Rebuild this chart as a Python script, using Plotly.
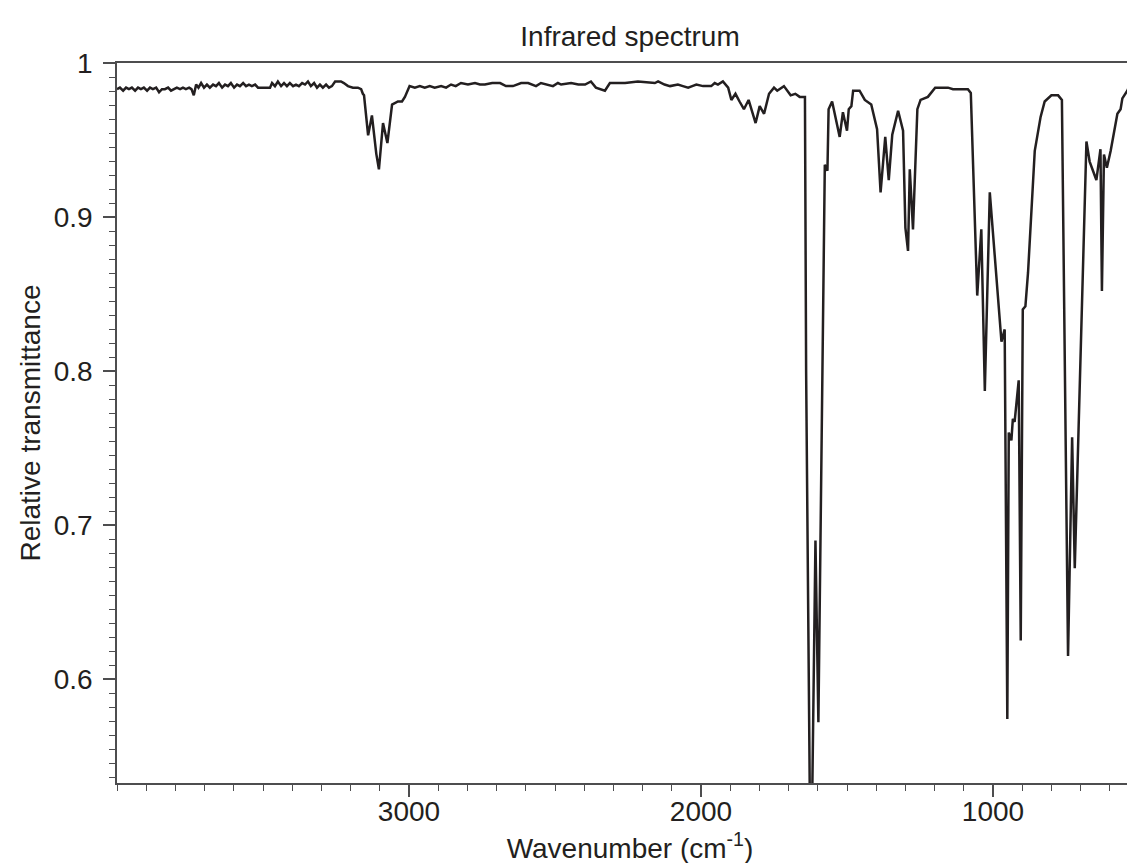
import plotly.graph_objects as go

# Wavenumber (cm^-1) and relative transmittance
wavenumber = [
    4000, 3990, 3979, 3969, 3959, 3949, 3938, 3928, 3918, 3908, 3897, 3887, 3877, 3866,
    3856, 3846, 3836, 3825, 3815, 3805, 3795, 3784, 3774, 3764, 3753, 3745, 3737, 3729,
    3721, 3712, 3702, 3692, 3682, 3671, 3661, 3651, 3640, 3630, 3620, 3610, 3599, 3589,
    3579, 3568, 3558, 3548, 3538, 3527, 3517, 3497, 3476, 3469, 3459, 3449, 3438, 3428,
    3418, 3408, 3397, 3387, 3377, 3366, 3356, 3346, 3336, 3325, 3315, 3305, 3295, 3284,
    3274, 3264, 3253, 3233, 3223, 3209, 3192, 3175, 3164, 3158, 3154, 3140, 3127, 3112,
    3103, 3089, 3074, 3058, 3038, 3024, 3014, 2998, 2980, 2963, 2946, 2929, 2912, 2890,
    2873, 2856, 2840, 2822, 2798, 2774, 2757, 2740, 2715, 2688, 2668, 2644, 2616, 2592,
    2565, 2548, 2524, 2507, 2490, 2479, 2445, 2420, 2397, 2377, 2360, 2340, 2329, 2312,
    2260, 2216, 2158, 2147, 2125, 2106, 2079, 2062, 2044, 2030, 2016, 1993, 1976, 1965,
    1953, 1942, 1925, 1907, 1896, 1882, 1868, 1853, 1837, 1813, 1799, 1784, 1767, 1750,
    1739, 1716, 1693, 1677, 1662, 1648, 1644, 1640, 1624, 1608, 1598, 1576, 1567, 1563,
    1551, 1525, 1514, 1500, 1494, 1485, 1479, 1457, 1439, 1417, 1397, 1385, 1369, 1357,
    1345, 1325, 1308, 1300, 1291, 1285, 1274, 1259, 1248, 1223, 1198, 1154, 1137, 1086,
    1076, 1054, 1040, 1028, 1011, 971, 960, 951, 946, 937, 932, 926, 912, 905,
    898, 889, 880, 857, 837, 823, 800, 777, 764, 743, 729, 720, 680, 669,
    646, 632, 627, 620, 610, 597, 574, 563, 557, 540, 524, 513, 501, 486,
]
transmittance = [
    0.983, 0.984, 0.982, 0.984, 0.983, 0.984, 0.982, 0.984, 0.983, 0.984, 0.982, 0.984, 0.983, 0.984,
    0.981, 0.983, 0.983, 0.984, 0.982, 0.983, 0.984, 0.983, 0.984, 0.983, 0.984, 0.983, 0.979, 0.986,
    0.984, 0.987, 0.984, 0.986, 0.984, 0.986, 0.985, 0.987, 0.984, 0.986, 0.985, 0.987, 0.984, 0.986,
    0.985, 0.987, 0.985, 0.986, 0.985, 0.986, 0.984, 0.984, 0.984, 0.987, 0.985, 0.988, 0.985, 0.987,
    0.985, 0.987, 0.985, 0.986, 0.985, 0.987, 0.986, 0.988, 0.985, 0.987, 0.984, 0.986, 0.984, 0.986,
    0.984, 0.985, 0.988, 0.988, 0.987, 0.985, 0.984, 0.984, 0.983, 0.980, 0.979, 0.953, 0.966, 0.941,
    0.931, 0.961, 0.948, 0.973, 0.975, 0.975, 0.978, 0.985, 0.984, 0.985, 0.984, 0.985, 0.984, 0.985,
    0.984, 0.986, 0.985, 0.987, 0.986, 0.987, 0.986, 0.986, 0.987, 0.987, 0.985, 0.985, 0.987, 0.987,
    0.985, 0.987, 0.986, 0.985, 0.987, 0.986, 0.987, 0.986, 0.986, 0.988, 0.984, 0.983, 0.982, 0.987,
    0.987, 0.988, 0.987, 0.988, 0.986, 0.985, 0.986, 0.985, 0.984, 0.985, 0.986, 0.985, 0.985, 0.985,
    0.987, 0.986, 0.988, 0.984, 0.976, 0.980, 0.975, 0.970, 0.976, 0.961, 0.972, 0.967, 0.980, 0.984,
    0.982, 0.985, 0.979, 0.980, 0.978, 0.978, 0.978, 0.800, 0.450, 0.690, 0.572, 0.934, 0.930, 0.970,
    0.975, 0.952, 0.968, 0.956, 0.970, 0.972, 0.982, 0.982, 0.976, 0.973, 0.957, 0.916, 0.952, 0.924,
    0.9535, 0.969, 0.956, 0.893, 0.878, 0.931, 0.892, 0.970, 0.976, 0.978, 0.984, 0.984, 0.983, 0.983,
    0.9805, 0.849, 0.892, 0.787, 0.916, 0.819, 0.827, 0.574, 0.760, 0.755, 0.769, 0.767, 0.794, 0.625,
    0.840, 0.842, 0.864, 0.943, 0.965, 0.975, 0.979, 0.979, 0.976, 0.615, 0.757, 0.672, 0.949, 0.936,
    0.924, 0.944, 0.852, 0.9405, 0.932, 0.943, 0.967, 0.970, 0.977, 0.982, 0.989, 0.978, 0.983, 0.976,
]

x_ticks = [3000, 2000, 1000]
y_ticks = [0.6, 0.7, 0.8, 0.9, 1.0]
y_tick_text = ["0.6", "0.7", "0.8", "0.9", "1"]

FONT = "Liberation Sans, Arial, Helvetica, sans-serif"
INK = "#231f20"
AXIS = "#4d4d4f"

X_RANGE = [4000, 486.3]
Y_RANGE = [0.5325, 1.0]

# minor tick positions (axis decoration, not data)
x_minor = [v for v in range(500, 4001, 100) if v not in x_ticks]
y_minor = [round(k / 110, 6) for k in range(59, 111) if round(k / 110, 6) not in y_ticks]

fig = go.Figure()
fig.add_trace(go.Scatter(
    x=wavenumber, y=transmittance, mode="lines",
    line=dict(color=INK, width=2.5), hoverinfo="skip", showlegend=False,
))

fig.update_layout(
    width=1135, height=863,
    margin=dict(l=109, r=0, t=55, b=88, pad=0),
    paper_bgcolor="white", plot_bgcolor="white",
    font=dict(family=FONT, size=28, color=INK),
    title=dict(text="Infrared spectrum", x=(109 + 1135) / 2 / 1135, xanchor="center",
               y=1 - 28 / 863, yanchor="middle",
               font=dict(family=FONT, size=28, color=INK)),
    showlegend=False,
)

fig.update_xaxes(
    range=X_RANGE, autorange=False,
    tickmode="array", tickvals=x_ticks, ticktext=[str(v) for v in x_ticks],
    ticks="outside", ticklen=12, tickwidth=1.6, tickcolor=AXIS,
    ticklabelstandoff=-9,
    minor=dict(tickmode="array", tickvals=x_minor, ticks="outside", ticklen=6,
               tickwidth=1.3, tickcolor=AXIS, showgrid=False),
    showline=True, linecolor=AXIS, linewidth=1.6, mirror=True,
    showgrid=False, zeroline=False,
    tickfont=dict(family=FONT, size=28, color=INK),
    title=dict(text="Wavenumber (cm<sup>-1</sup>)", standoff=12,
               font=dict(family=FONT, size=28, color=INK)),
    automargin=False,
)
fig.update_yaxes(
    range=Y_RANGE, autorange=False,
    tickmode="array", tickvals=y_ticks, ticktext=y_tick_text,
    ticks="outside", ticklen=12, tickwidth=1.6, tickcolor=AXIS,
    ticklabelstandoff=5,
    minor=dict(tickmode="array", tickvals=y_minor, ticks="outside", ticklen=6,
               tickwidth=1.3, tickcolor=AXIS, showgrid=False),
    showline=True, linecolor=AXIS, linewidth=1.6,
    showgrid=False, zeroline=False,
    tickfont=dict(family=FONT, size=28, color=INK),
    title=dict(text="Relative transmittance", standoff=5,
               font=dict(family=FONT, size=28, color=INK)),
    automargin=False,
)

fig.write_html("out.html")
